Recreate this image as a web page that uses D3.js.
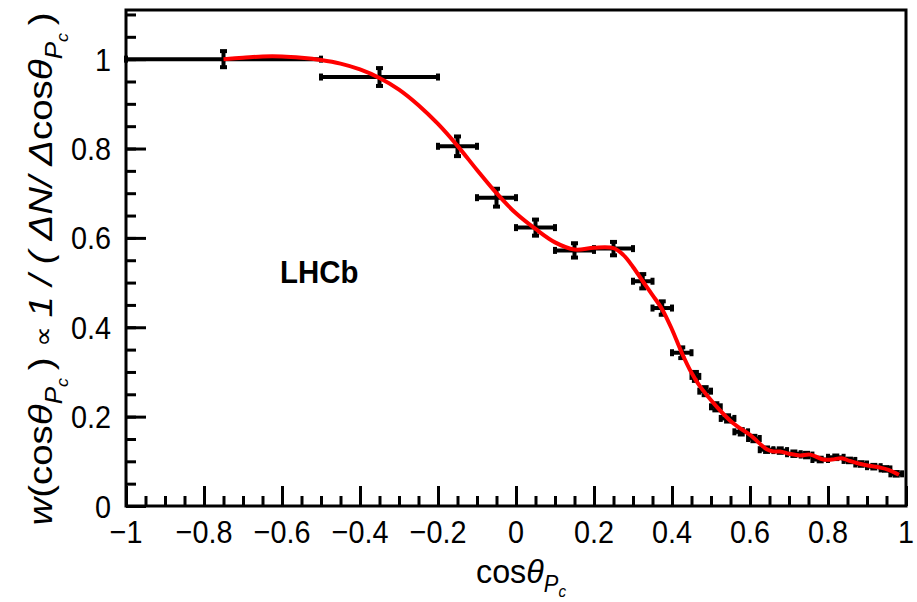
<!DOCTYPE html>
<html>
<head>
<meta charset="utf-8">
<script src="https://cdn.jsdelivr.net/npm/d3@7"></script>
<style>
    body { margin: 0; background: #fff; }
    svg { display: block; }
    text { font-family: "Liberation Sans", Arial, Helvetica, sans-serif; fill: #000; }
</style>
</head>
<body>
<div id="chart"></div>
<script>
// Binned weights: bin centre, half width, value, vertical error
const pointX = [-0.75, -0.35, -0.15, -0.05, 0.05, 0.15, 0.25, 0.325, 0.375, 0.425,
    0.46, 0.485, 0.5125, 0.5425, 0.5775, 0.61, 0.6425, 0.6775, 0.7125, 0.745,
    0.78, 0.82, 0.855, 0.885, 0.9175, 0.9475, 0.975];
const pointXErr = [0.25, 0.15, 0.05, 0.05, 0.05, 0.05, 0.05, 0.025, 0.025, 0.025,
    0.01, 0.015, 0.0125, 0.0175, 0.0175, 0.015, 0.0175, 0.0175, 0.0175, 0.015,
    0.02, 0.02, 0.015, 0.015, 0.0175, 0.0125, 0.015];
const pointY = [1.0, 0.96, 0.805, 0.69, 0.623, 0.572, 0.576, 0.503, 0.443, 0.343,
    0.29, 0.257, 0.222, 0.196, 0.166, 0.151, 0.126, 0.124, 0.117, 0.114,
    0.104, 0.109, 0.102, 0.094, 0.088, 0.083, 0.072];
const pointYErr = [0.018, 0.02, 0.022, 0.02, 0.018, 0.016, 0.015, 0.016, 0.015, 0.012,
    0.01, 0.009, 0.008, 0.007, 0.006, 0.006, 0.005, 0.005, 0.005, 0.005,
    0.004, 0.004, 0.004, 0.004, 0.004, 0.004, 0.004];

// Smoothed fit curve
const fitX = [-0.75, -0.7, -0.65, -0.6, -0.55, -0.5, -0.45, -0.4, -0.35, -0.3,
    -0.25, -0.2, -0.15, -0.1, -0.05, 0, 0.05, 0.1, 0.15, 0.2,
    0.25, 0.275, 0.3, 0.325, 0.35, 0.375, 0.4, 0.425, 0.45, 0.47,
    0.515, 0.557, 0.6, 0.643, 0.66, 0.677, 0.7, 0.728, 0.754, 0.788,
    0.81, 0.835, 0.855, 0.878, 0.905, 0.933, 0.955, 0.982];
const fitY = [1.0, 1.003, 1.006, 1.006, 1.003, 0.998, 0.99, 0.977, 0.958, 0.932,
    0.897, 0.855, 0.806, 0.752, 0.70, 0.655, 0.62, 0.59, 0.574, 0.578,
    0.577, 0.562, 0.535, 0.503, 0.472, 0.44, 0.395, 0.343, 0.298, 0.27,
    0.222, 0.185, 0.159, 0.127, 0.122, 0.122, 0.117, 0.113, 0.115, 0.104,
    0.104, 0.107, 0.101, 0.095, 0.09, 0.086, 0.081, 0.07];

const xMajor = [-1, -0.8, -0.6, -0.4, -0.2, 0, 0.2, 0.4, 0.6, 0.8, 1];
const yMajor = [0, 0.2, 0.4, 0.6, 0.8, 1];

const width = 917, height = 602;
const margin = { top: 10, right: 11, bottom: 96, left: 126 };

const svg = d3.select('#chart').append('svg')
    .attr('width', width)
    .attr('height', height);

const x = d3.scaleLinear().domain([-1, 1]).range([margin.left, width - margin.right]);
const y = d3.scaleLinear().domain([0, 1.11]).range([height - margin.bottom, margin.top]);

const fmt = v => (v < 0 ? '\u2212' : '') + Math.abs(+v.toFixed(2));

// minor ticks
svg.append('g')
    .attr('class', 'axis')
    .attr('transform', `translate(0,${y(0)})`)
    .call(d3.axisBottom(x).tickValues(d3.range(-1, 1.001, 0.05)).tickSize(-10).tickFormat(''));
svg.append('g')
    .attr('class', 'axis')
    .attr('transform', `translate(${x(-1)},0)`)
    .call(d3.axisLeft(y).tickValues(d3.range(0, 1.101, 0.05)).tickSize(-10).tickFormat(''));

// major ticks
svg.append('g')
    .attr('class', 'axis')
    .attr('transform', `translate(0,${y(0)})`)
    .call(d3.axisBottom(x).tickValues(xMajor).tickSize(-20).tickFormat(''));
svg.append('g')
    .attr('class', 'axis')
    .attr('transform', `translate(${x(-1)},0)`)
    .call(d3.axisLeft(y).tickValues(yMajor).tickSize(-20).tickFormat(''));

svg.selectAll('.axis .domain').remove();
svg.selectAll('.axis line').attr('stroke', '#000').attr('stroke-width', 3);

// tick labels, slightly condensed like the original
svg.append('g').selectAll('text')
    .data(xMajor)
    .join('text')
    .attr('transform', d => `translate(${x(d)},${y(0) + 37}) scale(0.9,1)`)
    .attr('text-anchor', 'middle')
    .style('font-size', '32px')
    .text(fmt);
svg.append('g').selectAll('text')
    .data(yMajor)
    .join('text')
    .attr('transform', d => `translate(${x(-1) - 15},${y(d) + 11.5}) scale(0.9,1)`)
    .attr('text-anchor', 'end')
    .style('font-size', '32px')
    .text(fmt);

// frame
svg.append('rect')
    .attr('x', x(-1))
    .attr('y', y(1.11))
    .attr('width', x(1) - x(-1))
    .attr('height', y(0) - y(1.11))
    .attr('fill', 'none')
    .attr('stroke', '#000')
    .attr('stroke-width', 3);

// error bars
const points = pointX.map((d, i) => ({ x: d, ex: pointXErr[i], y: pointY[i], ey: pointYErr[i] }));
const bars = svg.append('g')
    .attr('stroke', '#000')
    .attr('stroke-width', 4);
const cap = 3.5;

points.forEach(p => {
    const cx = x(p.x), cy = y(p.y);
    const x0 = x(p.x - p.ex), x1 = x(p.x + p.ex);
    const y0 = y(p.y - p.ey), y1 = y(p.y + p.ey);
    bars.append('line').attr('x1', x0).attr('x2', x1).attr('y1', cy).attr('y2', cy);
    bars.append('line').attr('x1', cx).attr('x2', cx).attr('y1', y0).attr('y2', y1);
    bars.append('line').attr('x1', x0).attr('x2', x0).attr('y1', cy - cap).attr('y2', cy + cap);
    bars.append('line').attr('x1', x1).attr('x2', x1).attr('y1', cy - cap).attr('y2', cy + cap);
    bars.append('line').attr('x1', cx - cap).attr('x2', cx + cap).attr('y1', y0).attr('y2', y0);
    bars.append('line').attr('x1', cx - cap).attr('x2', cx + cap).attr('y1', y1).attr('y2', y1);
});

// fit curve
const line = d3.line()
    .x(d => x(d[0]))
    .y(d => y(d[1]))
    .curve(d3.curveCatmullRom.alpha(0.5));

svg.append('path')
    .datum(fitX.map((d, i) => [d, fitY[i]]))
    .attr('d', line)
    .attr('fill', 'none')
    .attr('stroke', '#ff0000')
    .attr('stroke-width', 4)
    .attr('stroke-linejoin', 'round');

// LHCb label
svg.append('text')
    .attr('transform', 'translate(280,283) scale(0.95,1)')
    .style('font-size', '31px')
    .style('font-weight', 'bold')
    .text('LHCb');

// x title
const xt = svg.append('text')
    .attr('transform', 'translate(476,583) scale(0.95,1)')
    .style('font-size', '34px');
xt.append('tspan').text('cos');
xt.append('tspan').style('font-style', 'italic').text('\u03b8');
xt.append('tspan').attr('dy', 9).style('font-size', '23px').style('font-style', 'italic').text('P');
xt.append('tspan').attr('dy', 5).style('font-size', '16px').style('font-style', 'italic').text('c');

// y title
const yt = svg.append('text')
    .attr('transform', 'translate(52,269) rotate(-90) scale(1.13,1)')
    .attr('text-anchor', 'middle')
    .style('font-size', '34px');
yt.append('tspan').style('font-style', 'italic').text('w');
yt.append('tspan').text('(cos');
yt.append('tspan').style('font-style', 'italic').text('\u03b8');
yt.append('tspan').attr('dy', 10).style('font-size', '23px').style('font-style', 'italic').text('P');
yt.append('tspan').attr('dy', 6).style('font-size', '16px').style('font-style', 'italic').text('c');
yt.append('tspan').attr('dy', -16).text('\u2009) ');
yt.append('tspan').style('font-size', '26px').text('\u221d ');
yt.append('tspan').style('font-style', 'italic').text('1 / ( \u0394N/ \u0394');
yt.append('tspan').text('cos');
yt.append('tspan').style('font-style', 'italic').text('\u03b8');
yt.append('tspan').attr('dy', 10).style('font-size', '23px').style('font-style', 'italic').text('P');
yt.append('tspan').attr('dy', 6).style('font-size', '16px').style('font-style', 'italic').text('c');
yt.append('tspan').attr('dy', -16).text('\u2009)');
</script>
</body>
</html>
